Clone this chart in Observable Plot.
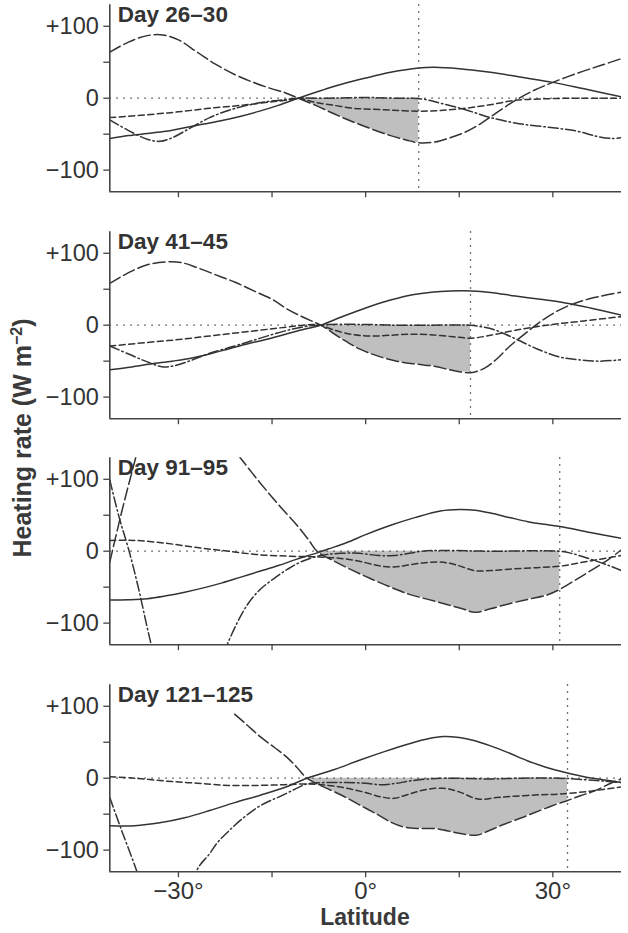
<!DOCTYPE html>
<html>
<head>
<meta charset="utf-8">
<script src="https://cdn.jsdelivr.net/npm/d3@7"></script>
<script src="https://cdn.jsdelivr.net/npm/@observablehq/plot@0.6"></script>
<style>
  html, body { margin: 0; padding: 0; background: #ffffff; }
  #chart { position: relative; width: 628px; height: 933px; font-family: "Liberation Sans", Arial, Helvetica, sans-serif; color: #333; }
  #chart svg { display: block; }
  #ylab { position: absolute; left: 22px; top: 438px; transform: translate(-50%, -50%) rotate(-90deg); white-space: nowrap; font-weight: bold; font-size: 25px; color: #3a3a3a; }
  #ylab sup { font-size: 16px; vertical-align: 9px; line-height: 0; }
  #xlab { position: absolute; left: 0; width: 730px; top: 902px; height: 30px; line-height: 30px; text-align: center; font-weight: bold; font-size: 23px; color: #3a3a3a; }
</style>
</head>
<body>
<div id="chart">
  <div id="panels"></div>
  <div id="ylab">Heating rate (W m<sup>−2</sup>)</div>
  <div id="xlab">Latitude</div>
</div>
<script>
// ---- Data (latitude in degrees, heating rate in W m^-2) ----
const titles = ["Day 26–30", "Day 41–45", "Day 91–95", "Day 121–125"];
const vlines = [8.5, 16.8, 31.1, 32.35];
const fillFrom = [-10.8, -7.2, -7.8, -9.4];
const yTicks = [-100, 0, 100];
const yMinorTicks = [-50, 50];
const xTicks = [-30, -15, 0, 15, 30];
const xTickLabels = {"-30": "−30°", "0": "0°", "30": "30°"};

// Panel 1: Day 26–30
const p1Solid = [[-41,-56],[-38,-52],[-35,-49],[-32,-46],[-29,-41],[-26,-36],[-23,-31],[-20,-25],[-17,-18],[-14,-10],[-10.8,0],[-7,11],[-4,19],[0,28],[4,36],[8.5,42],[11,43],[15,41],[20,36],[25,29],[30,22],[35,13],[41,2]];
const p1Long = [[-41,64],[-38,78],[-35,87],[-32.5,88],[-30,81],[-27,64],[-24,47],[-21,33],[-18,22],[-15,13],[-13,8],[-10.8,0],[-8,-10],[-5,-22],[-2,-33],[1,-43],[4,-52],[6.5,-58],[8.5,-62],[11,-61],[13.5,-55],[16,-47],[18.5,-35],[21,-20],[24,-3],[27,11],[30,22],[34,35],[37.5,45],[41,55]];
const p1Short = [[-41,-27],[-35,-23],[-30,-19],[-25,-14],[-20,-10],[-15,-5],[-12,-2],[-10.8,0],[-8,-6],[-5,-10],[-2,-14],[0,-15],[4,-16.5],[8.5,-18],[12,-17],[16,-14],[20,-9],[24,-3],[28,-1],[34,0],[41,0]];
const p1DashDot = [[-41,-30],[-38,-45],[-35,-57],[-33,-60],[-31,-55],[-28,-41],[-25,-27],[-22,-17],[-19,-10],[-16,-5],[-13,-2],[-10.8,0],[-6,0],[0,1],[5,0],[9,-1],[12,-7],[16,-16],[20,-27],[25,-36],[30,-41],[34,-46],[37,-53],[39.5,-56],[41,-55]];

// Panel 2: Day 41–45
const p2Solid = [[-41,-62],[-37.5,-58],[-34.5,-54],[-31,-50],[-28,-46],[-25,-40],[-22,-33],[-19,-26],[-16,-20],[-13,-13],[-10,-6],[-7.2,0],[-4,11],[0,24],[4,35],[8,43],[12,47],[16,48],[20,45.5],[24,40.5],[28,36],[32,31],[36,24],[41,14]];
const p2Long = [[-41,58],[-38,73],[-35,84],[-32,88],[-29.5,87],[-27,80],[-24,70],[-21,60],[-18,48],[-15,36],[-12.5,22],[-10,11],[-7.2,0],[-4,-18],[-1,-33],[2,-43],[5,-50],[8,-54],[11,-57],[14,-63],[16.8,-66],[19,-60],[21,-47],[23,-30],[25.5,-12],[28,5],[31,21],[34,32],[37.5,40],[41,46]];
const p2Short = [[-41,-29],[-35,-24],[-30,-20],[-25,-15],[-20,-10],[-15,-5],[-11,-1],[-8.5,1],[-7.2,0],[-5,-7],[-2,-13],[1,-15],[4,-14],[7,-12.5],[10,-13],[14,-16],[17,-18],[20,-14],[24,-7],[29,0],[35,6],[41,12]];
const p2DashDot = [[-41,-29],[-38,-40],[-35,-51],[-32.5,-58],[-30.5,-56],[-28,-49],[-25,-39],[-21,-29],[-18,-21],[-15,-13],[-12,-6],[-9,-1],[-6,1],[0,1],[5,0],[10,0],[16.8,0],[18.5,-2],[20.5,-6],[22.5,-13],[24.5,-21],[27.5,-33],[31,-44],[34,-48],[37.5,-50],[41,-48]];

// Panel 3: Day 91–95
const p3Solid = [[-41,-68],[-38,-67.5],[-35,-66],[-32,-62],[-29,-57],[-26,-51],[-23,-44],[-20,-36],[-17,-28],[-14,-20],[-11,-11],[-8,-3],[-6,3],[-3,12],[0,23],[4,36],[8,47],[12,56],[15,58],[17.5,57],[20,53],[23,47],[26,41],[29,37],[32,33],[36,26],[41,18]];
const p3Long = [[-41,-15],[-40,22],[-39,58],[-38,92],[-37,125],[-36,158],[-34,205],[-31,240],[-28,235],[-25,200],[-22.5,158],[-20,129],[-17,96],[-14,65],[-11,36],[-9,14],[-7.8,0],[-5,-14],[-2,-27],[1,-39],[4,-50],[7,-60],[10,-67],[13,-74],[15.5,-80],[17.5,-85],[20,-80],[23,-73],[26,-67],[29,-61],[31.1,-53],[34,-38],[37,-22],[39,-11],[41,2]];
const p3Short = [[-41,15],[-37,15],[-32,11],[-27,5],[-22,0],[-17,-5],[-12,-7],[-7.8,-8],[-4,-10],[-1,-14],[2,-20],[4.5,-22],[7,-19],[9.5,-16],[12,-15],[14.5,-19],[17.5,-27],[20,-27],[23,-25],[27,-23],[31,-21],[35,-15],[41,-6]];
const p3DashDot = [[-41,99],[-39.5,47],[-38,3],[-36.5,-48],[-34.5,-125],[-32,-210],[-28,-260],[-25,-200],[-22,-126],[-19,-75],[-17,-54],[-14.7,-38],[-12.5,-25],[-10.4,-15],[-7.2,-6],[-4,-3],[-1,-3],[2,-6],[4.5,-6],[7,-3],[9,0],[12,1],[20,0],[31,0],[33,-3],[36,-11],[39,-20],[41,-27]];

// Panel 4: Day 121–125
const p4Solid = [[-41,-66],[-37,-66],[-33,-62],[-29,-55],[-25,-45],[-21,-34],[-17,-24],[-13,-13],[-9.4,0],[-5,12],[-1,25],[3,37],[7,48],[10,55],[12.5,58],[15,56.5],[17,53],[20,45],[23,35],[26,24],[29,15],[32,8],[35,2],[38,-2],[41,-6]];
const p4Long = [[-21,89],[-19,74],[-16.8,57],[-14.5,42],[-12.6,29],[-11,15],[-9.4,0],[-7,-11],[-4,-23],[-1,-37],[2,-51],[4,-61],[6.2,-68],[8.5,-70],[11,-70],[13,-73],[15.2,-77],[17.9,-79],[20,-72],[22.2,-64],[25,-55],[27,-48],[30,-38],[32.35,-31],[34.5,-24],[36.6,-18],[39.8,-5],[41,-1]];
const p4Short = [[-41,2],[-37,0],[-32,-4],[-27,-7],[-22,-10],[-17,-10],[-13,-9],[-9.4,-8],[-6,-10],[-3,-14],[0,-20],[2.5,-26],[4.5,-28],[7,-22],[9.5,-16],[12.5,-14],[15,-19],[18,-29],[21,-27],[24,-25],[28,-23],[31,-22],[36,-18],[41,-12]];
const p4DashDot = [[-41,-27],[-39,-75],[-36.6,-131],[-34,-200],[-30,-210],[-27,-127],[-25,-105],[-23.8,-90],[-22,-74],[-20,-58],[-17.4,-41],[-15.5,-32],[-13.6,-25],[-11.5,-16],[-9.4,-8],[-6,-6],[-3,-6],[0,-7],[2.5,-9],[5,-7],[7,-4],[10,-1],[13,0],[20,-1],[25,0],[31,0],[35,-2],[38,-4],[41,-6]];

const panels = [
  {solid: p1Solid, long: p1Long, short: p1Short, dashdot: p1DashDot},
  {solid: p2Solid, long: p2Long, short: p2Short, dashdot: p2DashDot},
  {solid: p3Solid, long: p3Long, short: p3Short, dashdot: p3DashDot},
  {solid: p4Solid, long: p4Long, short: p4Short, dashdot: p4DashDot}
];

// ---- Styles ----
const FONT = '"Liberation Sans", Arial, Helvetica, sans-serif';
const INK = "#333";
const AXIS = "#444";
const dashes = {solid: null, long: "12,4", short: "6,3.5", dashdot: "10,3,1.5,3"};
const CURVE = "catmull-rom";

const fmtY = d => d > 0 ? "+" + d : d < 0 ? "−" + Math.abs(d) : "0";

function makePanel(i) {
  const isLast = i === 3;
  const H = isLast ? 223.5 : 226.5;
  const mt = 4.2, area = 187;
  const P = panels[i];
  const fillData = P.long.filter(([x]) => x >= fillFrom[i] && x <= vlines[i]);
  const lineMark = (data, dash) => Plot.line(data, {
    x: d => d[0], y: d => d[1], stroke: INK, strokeWidth: 1.5,
    strokeDasharray: dash, curve: CURVE, clip: true
  });
  return Plot.plot({
    width: 628,
    height: H,
    marginLeft: 109.3,
    marginRight: 7,
    marginTop: mt,
    marginBottom: H - mt - area,
    x: {domain: [-41, 41]},
    y: {domain: [-130, 130]},
    style: {fontFamily: FONT, fontSize: "24px", color: INK, background: "white", overflow: "visible"},
    marks: [
      Plot.areaY(fillData, {x: d => d[0], y1: 0, y2: d => d[1], fill: "#bfbfbf", curve: CURVE}),
      Plot.ruleY([0], {stroke: AXIS, strokeWidth: 1.3, strokeDasharray: "1.5,5.5"}),
      lineMark(P.solid, null),
      lineMark(P.long, dashes.long),
      lineMark(P.short, dashes.short),
      lineMark(P.dashdot, dashes.dashdot),
      Plot.ruleX([vlines[i]], {stroke: AXIS, strokeWidth: 1.3, strokeDasharray: "1.5,5.5"}),
      Plot.axisY(yTicks, {tickFormat: fmtY, tickSize: 6, tickPadding: 5, label: null, stroke: AXIS, strokeWidth: 1.3, fill: INK, fontSize: 23.5}),
      Plot.axisY(yMinorTicks, {tickFormat: () => "", tickSize: 6, label: null, stroke: AXIS, strokeWidth: 1.3}),
      Plot.axisX(xTicks, {tickFormat: isLast ? (d => xTickLabels[String(d)] || "") : (() => ""), tickSize: 6, tickPadding: 4, label: null, stroke: AXIS, strokeWidth: 1.3, fill: INK, fontSize: 24}),
      Plot.ruleX([-41], {stroke: AXIS, strokeWidth: 1.6}),
      Plot.ruleY([-130], {stroke: AXIS, strokeWidth: 1.6}),
      Plot.text([titles[i]], {text: d => d, frameAnchor: "top-left", dx: 8, dy: 1.5, lineAnchor: "top", textAnchor: "start", fontWeight: "bold", fontSize: 22.5, fill: INK})
    ]
  });
}

const host = document.getElementById("panels");
for (let i = 0; i < 4; i++) host.appendChild(makePanel(i));
</script>
</body>
</html>
